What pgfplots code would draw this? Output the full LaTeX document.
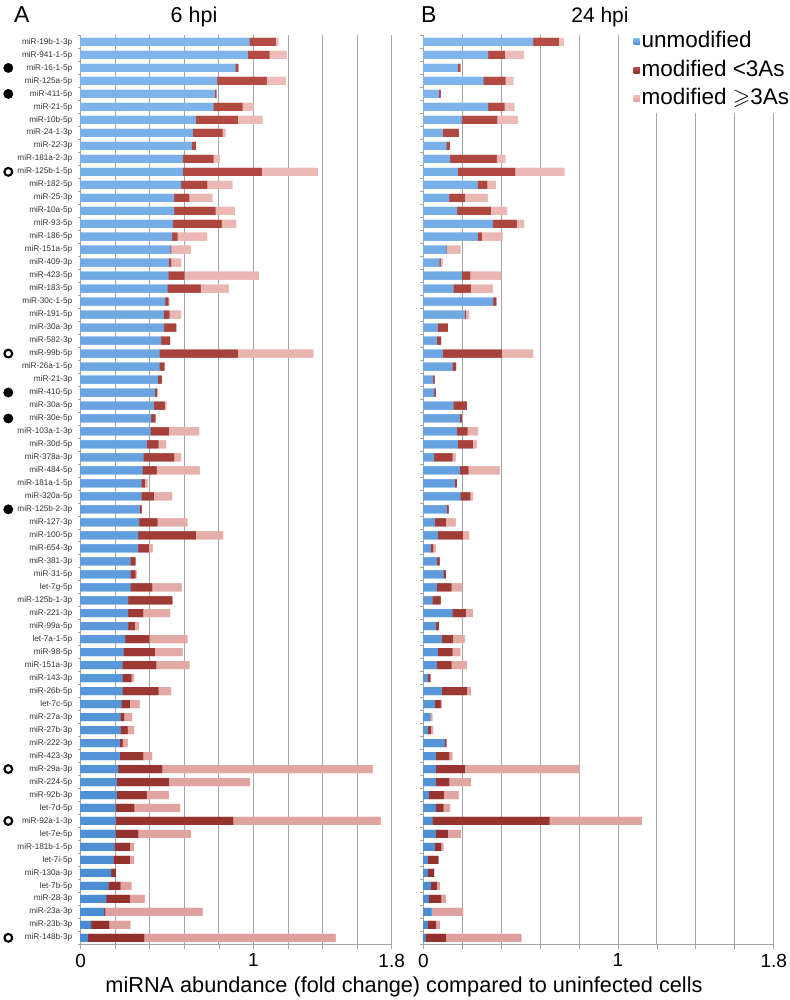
\documentclass[border=0pt]{standalone}
\usepackage{fontspec}
\setmainfont{Liberation Sans}
\usepackage{amssymb}
\usepackage{pgfplots}
\usepackage{pgfplotstable}
\pgfplotsset{compat=1.18}
\definecolor{cblue}{RGB}{98,160,224}
\definecolor{cblueT}{RGB}{128,182,236}
\definecolor{cblueB}{RGB}{72,138,210}
\definecolor{cred}{RGB}{162,60,54}
\definecolor{credT}{RGB}{180,76,68}
\definecolor{credB}{RGB}{145,48,44}
\definecolor{cpink}{RGB}{228,172,168}
\definecolor{cpinkT}{RGB}{238,190,186}
\definecolor{cpinkB}{RGB}{222,160,156}
\definecolor{cgrid}{RGB}{165,165,165}

\pgfplotstableread{
i b r p
0 0.976 0.152 0.016
1 0.968 0.124 0.100
2 0.895 0.017 0
3 0.789 0.287 0.110
4 0.777 0.008 0
5 0.768 0.168 0.065
6 0.667 0.243 0.141
7 0.648 0.172 0.017
8 0.642 0.024 0
9 0.592 0.176 0.036
10 0.592 0.457 0.323
11 0.581 0.150 0.147
12 0.540 0.087 0.135
13 0.540 0.239 0.114
14 0.534 0.282 0.083
15 0.529 0.030 0.172
16 0.519 0.004 0.115
17 0.511 0.012 0.058
18 0.507 0.093 0.430
19 0.502 0.192 0.162
20 0.488 0.019 0.006
21 0.482 0.031 0.068
22 0.482 0.070 0.002
23 0.465 0.052 0
24 0.455 0.455 0.436
25 0.455 0.029 0.002
26 0.446 0.023 0.002
27 0.430 0.012 0.002
28 0.424 0.062 0.010
29 0.407 0.025 0.002
30 0.403 0.108 0.174
31 0.382 0.067 0.045
32 0.363 0.177 0.041
33 0.357 0.083 0.249
34 0.351 0.021 0.016
35 0.351 0.073 0.105
36 0.341 0.012 0
37 0.338 0.106 0.173
38 0.332 0.334 0.158
39 0.332 0.063 0.022
40 0.287 0.029 0.002
41 0.287 0.029 0.008
42 0.287 0.126 0.171
43 0.274 0.256 0
44 0.274 0.087 0.156
45 0.274 0.040 0.022
46 0.257 0.140 0.220
47 0.247 0.183 0.160
48 0.241 0.195 0.193
49 0.241 0.052 0.016
50 0.241 0.208 0.074
51 0.235 0.049 0.057
52 0.230 0.021 0.046
53 0.230 0.042 0.037
54 0.226 0.017 0.029
55 0.226 0.135 0.052
56 0.216 0.255 1.219
57 0.210 0.301 0.469
58 0.210 0.172 0.129
59 0.204 0.105 0.266
60 0.204 0.678 0.854
61 0.201 0.131 0.306
62 0.195 0.089 0.025
63 0.189 0.095 0.025
64 0.176 0.028 0
65 0.160 0.070 0.063
66 0.147 0.137 0.086
67 0.135 0.006 0.565
68 0.060 0.104 0.123
69 0.041 0.326 1.109
}\dataA

\pgfplotstableread{
i b r p
0 0.564 0.133 0.024
1 0.333 0.086 0.096
2 0.178 0.013 0
3 0.308 0.114 0.041
4 0.080 0.009 0
5 0.333 0.084 0.051
6 0.197 0.182 0.106
7 0.099 0.084 0
8 0.118 0.019 0
9 0.137 0.239 0.046
10 0.178 0.294 0.253
11 0.279 0.049 0.043
12 0.132 0.082 0.116
13 0.174 0.173 0.084
14 0.357 0.123 0.038
15 0.279 0.022 0.106
16 0.118 0.003 0.069
17 0.082 0.007 0.010
18 0.197 0.044 0.159
19 0.154 0.090 0.113
20 0.359 0.015 0.002
21 0.212 0.007 0.017
22 0.075 0.051 0
23 0.070 0.022 0
24 0.099 0.304 0.161
25 0.149 0.019 0
26 0.051 0.007 0
27 0.055 0.010 0
28 0.154 0.070 0
29 0.186 0.012 0
30 0.173 0.054 0.055
31 0.178 0.077 0.019
32 0.056 0.093 0.017
33 0.188 0.044 0.161
34 0.162 0.011 0
35 0.190 0.051 0.014
36 0.121 0.009 0
37 0.060 0.056 0.050
38 0.075 0.128 0.033
39 0.039 0.012 0.014
40 0.070 0.014 0
41 0.103 0.013 0
42 0.070 0.074 0.056
43 0.046 0.043 0
44 0.149 0.070 0.036
45 0.065 0.015 0
46 0.094 0.058 0.060
47 0.075 0.074 0.041
48 0.070 0.074 0.080
49 0.024 0.012 0
50 0.094 0.130 0.020
51 0.060 0.029 0.007
52 0.036 0 0.010
53 0.024 0.015 0.012
54 0.111 0.007 0
55 0.065 0.067 0.017
56 0.065 0.149 0.589
57 0.065 0.067 0.112
58 0.029 0.077 0.075
59 0.065 0.038 0.035
60 0.046 0.602 0.475
61 0.065 0.061 0.067
62 0.060 0.032 0.011
63 0.024 0.053 0
64 0.024 0.032 0
65 0.038 0.032 0.015
66 0.029 0.063 0.024
67 0.043 0 0.162
68 0.024 0.041 0.020
69 0.012 0.104 0.388
}\dataB

\pgfplotsset{
  panel/.style={
    scale only axis, height=908.8pt,
    anchor=south west,
    xbar stacked, bar width=8pt,
    y dir=reverse, ymin=-0.5, ymax=69.5,
    xmin=0, xmax=1.8,
    xtick={0,0.2,0.4,0.6,0.8,1,1.2,1.4,1.6,1.8},
    xticklabels={0,,,,,1,,,,1.8},
    xmajorgrids,
    grid style={cgrid, line width=0.9pt},
    axis x line*=bottom, axis y line*=left,
    axis line style={-, cgrid, line width=0.9pt},
    tick align=outside,
    major tick length=5pt,
    minor tick length=3pt,
    major x tick style={cgrid, line width=0.8pt},
    major y tick style={draw=none},
    minor y tick style={cgrid, line width=0.7pt},
    ytick={0,...,69},
    minor ytick={-0.5,0.5,...,69.5},
    xticklabel style={font=\fontsize{19}{19}\selectfont, yshift=-1pt},
    yticklabel style={font=\fontsize{8.2}{9}\selectfont, text=black!80},
    /pgf/number format/assume math mode=true,
  },
  sb/.style={draw=none, fill=cblue, top color=cblueT, bottom color=cblueB},
  sr/.style={draw=none, fill=cred, top color=credT, bottom color=credB},
  sp/.style={draw=none, fill=cpink, top color=cpinkT, bottom color=cpinkB},
}

\begin{document}
\begin{tikzpicture}[x=1pt,y=1pt]
\useasboundingbox (0,0) rectangle (789,1000);

% Panel A
\begin{axis}[panel, at={(80.7pt,55.7pt)}, width=311pt,
  yticklabels={miR-19b-1-3p,miR-941-1-5p,miR-16-1-5p,miR-125a-5p,miR-411-5p,miR-21-5p,miR-10b-5p,miR-24-1-3p,miR-22-3p,miR-181a-2-3p,miR-125b-1-5p,miR-182-5p,miR-25-3p,miR-10a-5p,miR-93-5p,miR-186-5p,miR-151a-5p,miR-409-3p,miR-423-5p,miR-183-5p,miR-30c-1-5p,miR-191-5p,miR-30a-3p,miR-582-3p,miR-99b-5p,miR-26a-1-5p,miR-21-3p,miR-410-5p,miR-30a-5p,miR-30e-5p,miR-103a-1-3p,miR-30d-5p,miR-378a-3p,miR-484-5p,miR-181a-1-5p,miR-320a-5p,miR-125b-2-3p,miR-127-3p,miR-100-5p,miR-654-3p,miR-381-3p,miR-31-5p,let-7g-5p,miR-125b-1-3p,miR-221-3p,miR-99a-5p,let-7a-1-5p,miR-98-5p,miR-151a-3p,miR-143-3p,miR-26b-5p,let-7c-5p,miR-27a-3p,miR-27b-3p,miR-222-3p,miR-423-3p,miR-29a-3p,miR-224-5p,miR-92b-3p,let-7d-5p,miR-92a-1-3p,let-7e-5p,miR-181b-1-5p,let-7i-5p,miR-130a-3p,let-7b-5p,miR-28-3p,miR-23a-3p,miR-23b-3p,miR-148b-3p},
]
\addplot[sb] table[x=b, y=i] {\dataA};
\addplot[sr] table[x=r, y=i] {\dataA};
\addplot[sp] table[x=p, y=i] {\dataA};
\end{axis}

% circle markers beside panel A
\begin{axis}[scale only axis, height=908.8pt, width=311pt, anchor=south west,
  at={(80.7pt,55.7pt)}, y dir=reverse, ymin=-0.5, ymax=69.5, xmin=0, xmax=1.8,
  hide axis, clip=false]
\addplot[only marks, mark=*, mark size=4.7pt, black] coordinates {
 (-0.419,2) (-0.419,4) (-0.419,27) (-0.419,29) (-0.419,36)};
\addplot[only marks, mark=o, mark size=3.9pt, black, line width=2.1pt] coordinates {
 (-0.419,10) (-0.419,24) (-0.419,56) (-0.419,60) (-0.419,69)};
\end{axis}

% Panel B
\begin{axis}[panel, at={(423.3pt,55.7pt)}, width=350.4pt,
  yticklabels={},
  legend style={at={(0.588,1.0097)}, anchor=north west, draw=none, fill=white,
    font=\fontsize{22.5}{24}\selectfont, row sep=4.3pt, inner xsep=4pt, inner ysep=3pt,
    nodes={text height=16pt, text depth=4pt, inner ysep=2pt},
    cells={anchor=west}},
  legend image code/.code={\fill[#1] (0pt,-3pt) rectangle (6pt,3pt);},
]
\addplot[sb] table[x=b, y=i] {\dataB};
\addplot[sr] table[x=r, y=i] {\dataB};
\addplot[sp] table[x=p, y=i] {\dataB};
\legend{unmodified, modified <3As, modified $\geqslant$3As}
\end{axis}

% titles and axis label
\node[anchor=base west, font=\fontsize{23}{23}\selectfont, inner sep=0] at (14,977) {A};
\node[anchor=base, font=\fontsize{21.5}{22}\selectfont, inner sep=0] at (194,977) {6 hpi};
\node[anchor=base west, font=\fontsize{23}{23}\selectfont, inner sep=0] at (421,977) {B};
\node[anchor=base, font=\fontsize{21}{22}\selectfont, inner sep=0] at (600,977) {24 hpi};
\node[anchor=base, font=\fontsize{21.7}{22}\selectfont, inner sep=0] at (404,7) {miRNA abundance (fold change) compared to uninfected cells};
\end{tikzpicture}
\end{document}
